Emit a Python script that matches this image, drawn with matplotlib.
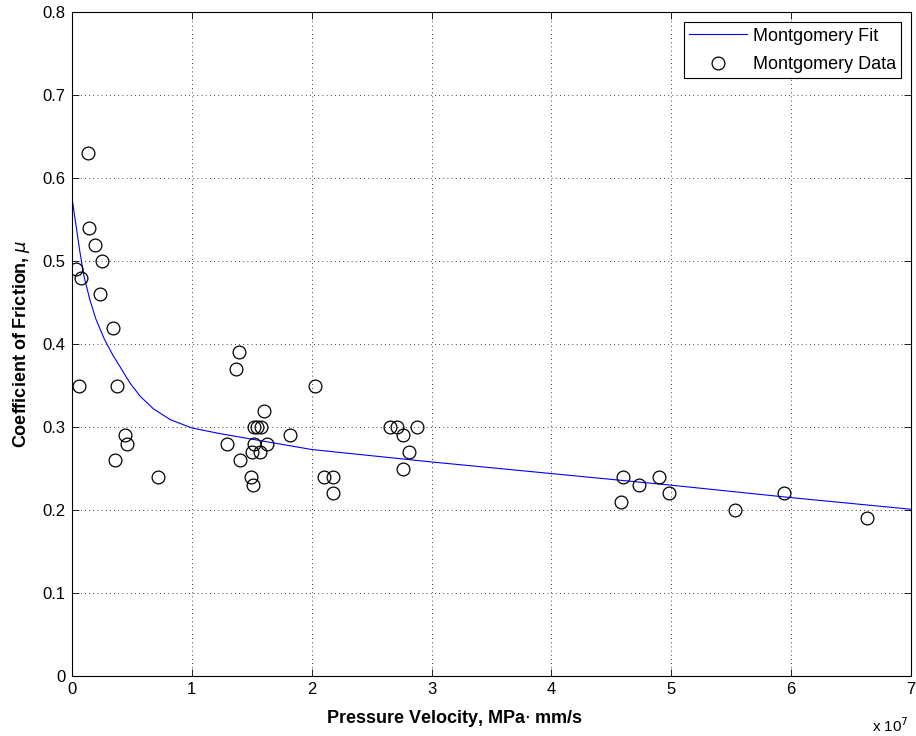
import matplotlib
matplotlib.use("Agg")
import matplotlib.pyplot as plt

plt.rcParams['font.family'] = ['Liberation Sans', 'DejaVu Sans']

# Data (x in units of 1e7 MPa·mm/s)
data_pv = [0.03, 0.077, 0.13, 0.143, 0.19, 0.25, 0.235, 0.06, 0.346, 0.373,
           0.446, 0.457, 0.36, 0.718,
           1.396, 1.365, 1.29, 1.40, 2.03, 1.60, 1.52, 1.54, 1.58, 1.82,
           1.52, 1.63, 1.50, 1.57, 1.49, 1.51, 2.10, 2.18, 2.18,
           2.65, 2.71, 2.88, 2.76, 2.81, 2.76,
           4.60, 4.73, 4.90, 4.98, 4.58, 5.53, 5.94, 6.63]
data_mu = [0.49, 0.48, 0.63, 0.54, 0.52, 0.50, 0.46, 0.35, 0.42, 0.35,
           0.29, 0.28, 0.26, 0.24,
           0.39, 0.37, 0.28, 0.26, 0.35, 0.32, 0.30, 0.30, 0.30, 0.29,
           0.28, 0.28, 0.27, 0.27, 0.24, 0.23, 0.24, 0.24, 0.22,
           0.30, 0.30, 0.30, 0.29, 0.27, 0.25,
           0.24, 0.23, 0.24, 0.22, 0.21, 0.20, 0.22, 0.19]

fit_pv = [0, 0.02, 0.04, 0.065, 0.1, 0.15, 0.2, 0.27, 0.34, 0.4, 0.45, 0.49,
          0.57, 0.68, 0.82, 1.0, 1.24, 1.4, 2, 3, 4, 5, 6, 7]
fit_mu = [0.577, 0.556, 0.537, 0.512, 0.482, 0.453, 0.430, 0.406, 0.387,
          0.373, 0.361, 0.352, 0.337, 0.322, 0.309, 0.299, 0.292, 0.288,
          0.273, 0.258, 0.244, 0.230, 0.215, 0.201]

x_ticks = [0, 1, 2, 3, 4, 5, 6, 7]
y_ticks = [0, 0.1, 0.2, 0.3, 0.4, 0.5, 0.6, 0.7, 0.8]

fig = plt.figure(figsize=(9.16, 7.36), dpi=100)
ax = fig.add_axes([72/916, 1-676/736, (911-72)/916, (676-12.3)/736])

ax.plot(fit_pv, fit_mu, color='#0000ff', lw=0.8, label='Montgomery Fit')
ax.plot(data_pv, data_mu, linestyle='none', marker='o', ms=9.2,
        mfc='none', mec='black', mew=0.9, label='Montgomery Data')

ax.set_xlim(0, 7)
ax.set_ylim(0, 0.8)
ax.set_xticks(x_ticks)
ax.set_yticks(y_ticks)
ax.set_xticklabels([str(t) for t in x_ticks])
ax.set_yticklabels(['0'] + ['%.1f' % t for t in y_ticks[1:]])
ax.tick_params(direction='in', top=True, right=True, labelsize=12,
               length=5, width=0.6, pad=4.5)
ax.grid(True, linestyle=(0, (1, 4)), color='black', lw=0.6)
for s in ax.spines.values():
    s.set_linewidth(0.8)

ax.set_xlabel('Pressure Velocity, MPa$\\cdot$ mm/s', fontweight='bold',
              fontsize=13)
ax.xaxis.set_label_coords((455 - 72) / 839, -0.048, transform=ax.transAxes)
ax.xaxis.label.set_va('top')
ax.set_ylabel('Coefficient of Friction, $\\mu$', fontweight='bold',
              fontsize=13, labelpad=8)
ax.text(0.997, -0.06, 'x 10$^{7}$', transform=ax.transAxes, ha='right',
        va='top', fontsize=11)

leg = ax.legend(loc='upper right', fontsize=13, fancybox=False,
                edgecolor='black', framealpha=1, borderpad=0.3,
                handlelength=3.2, handletextpad=0.3, labelspacing=0.62,
                borderaxespad=0.55)
leg.get_frame().set_linewidth(0.8)

fig.savefig('out.png', dpi=100)
